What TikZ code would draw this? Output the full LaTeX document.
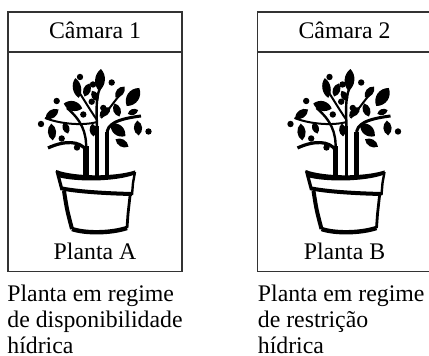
\documentclass[tikz,border=0pt]{standalone}
\usepackage{fontspec}
\setmainfont{Liberation Serif}
\usetikzlibrary{positioning}

\newcommand{\folha}[5]{%
  \fill[shift={(#1,#2)},rotate=#3] (-#4/2,0) .. controls (-#4/4,#5) and (#4/4,#5) .. (#4/2,0)
    .. controls (#4/4,-#5) and (-#4/4,-#5) .. cycle;}

\tikzset{
  camara/.style={draw=black!80, line width=0.7pt},
  rotulo/.style={font=\fontsize{11.9}{12.8}\selectfont, inner sep=0pt},
  legenda/.style={rotulo, align=left, anchor=north west},
  pics/pottree/.style={code={
    % vaso
    \fill (-39,170) .. controls (-20,177) and (20,177) .. (40,170.5)
      -- (40,174.5) .. controls (20,182) and (-20,182) .. (-37,177) -- cycle;
    \draw[line width=1.6pt] (-38,171) -- (-33,190);
    \draw[line width=1.2pt] (40,172) -- (38,183) -- (37,195);
    \draw[line width=2pt] (-33,188.5) .. controls (-15,192) and (15,193.5) .. (37,194);
    \draw[line width=2pt] (-31,191) .. controls (-28,210) .. (-23,229);
    \draw[line width=1.4pt] (35,196) -- (33,214) -- (32,228);
    \draw[line width=2.2pt] (-23,229) .. controls (-10,233.5) and (15,233.5) .. (32,228);
    % troncos
    \draw[line width=2.6pt] (-9,176) -- (-9,146);
    \draw[line width=1.8pt] (2,176) -- (2,126);
    \draw[line width=2.2pt] (12,176) -- (12,132);
    \draw[line width=1.6pt] (-9,150) .. controls (-15,141) and (-30,140) .. (-47,148);
    \draw[line width=1.2pt] (-9,150) .. controls (-8,132) and (-14,120) .. (-28,108);
    \draw[line width=1pt] (-50,118) .. controls (-35,124) and (-12,126) .. (2,122);
    \draw[line width=1.2pt] (2,130) .. controls (2,115) and (0,100) .. (5,88);
    \draw[line width=1pt] (2,120) .. controls (-5,110) and (-12,98) .. (-16,92);
    \draw[line width=1.5pt] (12,134) .. controls (12,124) and (22,119) .. (46,116);
    \draw[line width=1pt] (6,118) .. controls (14,110) and (20,100) .. (25,95);
    % folhas
    \folha{5}{80}{85}{22}{6.5}
    \folha{-18}{88}{100}{20}{5.5}
    \folha{-8}{90}{70}{14}{5}
    \folha{-22}{106}{-15}{19}{6.5}
    \folha{-43}{114}{35}{16}{5.5}
    \folha{-43}{132}{95}{17}{5.5}
    \folha{-29}{128}{110}{12}{4.5}
    \folha{25}{92}{50}{14}{5}
    \folha{38}{97}{55}{22}{8}
    \folha{10}{112}{40}{14}{5}
    \folha{22}{110}{110}{14}{5}
    \folha{38}{112}{20}{11}{4}
    \folha{23}{130}{140}{19}{7}
    \folha{43}{128}{95}{15}{5.5}
    \folha{27}{143}{150}{15}{5}
    \folha{-2}{130}{95}{13}{4.5}
    \folha{0}{96}{120}{12}{4.5}
    % frutos
    \foreach \bx/\by in {-15/77, -2/84.5, 16.7/82.5, -38.3/101, -3.3/101.7, 8.3/108,
      -11.7/114.5, -54/124, -33.3/138.5, -18/147.5, 53.5/131.5}
      \fill (\bx,\by) circle (3.2);
  }}
}

\begin{document}
\begin{tikzpicture}[x=0.5pt,y=-0.5pt]
  \useasboundingbox (0,0) rectangle (429,356);

  \draw[camara] (8,12) rectangle (182,271.5);
  \draw[camara] (8,52) -- (182,52);
  \node[rotulo,anchor=base] (cam1) at (95,39) {Câmara 1};
  \pic at (95,0) {pottree};
  \node[rotulo,anchor=base] (plA) at (95,260) {Planta A};
  \node[legenda] (leg1) at (7,285) {Planta em regime\\de disponibilidade\\hídrica};

  \draw[camara] (257.5,12) rectangle (431,271.5);
  \draw[camara] (257.5,52) -- (431,52);
  \node[rotulo,anchor=base] (cam2) at (344.5,39) {Câmara 2};
  \pic at (344.5,0) {pottree};
  \node[rotulo,anchor=base] (plB) at (344.5,260) {Planta B};
  \node[legenda] (leg2) at (257.5,285) {Planta em regime\\de restrição\\hídrica};
\end{tikzpicture}
\end{document}
